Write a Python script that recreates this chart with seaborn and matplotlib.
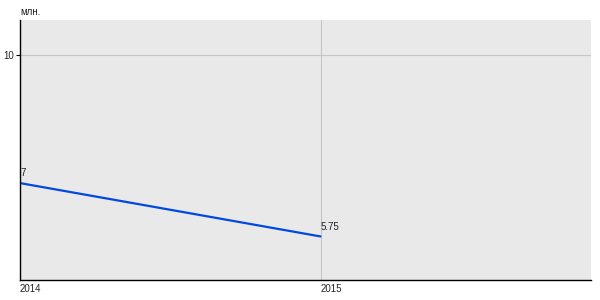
import matplotlib
matplotlib.use("Agg")
import matplotlib.pyplot as plt
import seaborn as sns
import pandas as pd

years = [2014, 2015]
values = [7, 5.75]
value_labels = ["7", "5.75"]
y_ticks = [10]
unit_label = "млн."

sns.set_theme(style="white")
plt.rcParams['font.family'] = ['Liberation Sans', 'DejaVu Sans']

fig = plt.figure(figsize=(6, 3), dpi=100)
ax = fig.add_axes([20/600, 20/300, 571/600, 260/300])
ax.set_facecolor("#e9e9e9")

df = pd.DataFrame({"year": years, "value": values})
sns.lineplot(data=df, x="year", y="value", ax=ax, color="#0049e0", linewidth=1.6)

ax.set_xlim(2014, 2015.9)
ax.set_ylim(4.73, 10.82)
ax.set_xticks(years)
ax.set_xticklabels([str(y) for y in years], ha="left", fontsize=7)
ax.set_yticks(y_ticks)
ax.set_yticklabels([str(t) for t in y_ticks], fontsize=7)
ax.tick_params(axis="x", length=0, pad=3)
ax.tick_params(axis="y", length=3, width=0.8, color="black", pad=1, left=True)
ax.grid(True, color="#c6c6c6", linewidth=0.8)
ax.set_axisbelow(True)
ax.set_xlabel("")
ax.set_ylabel("")
for s in ["top", "right"]:
    ax.spines[s].set_visible(False)
for s in ["left", "bottom"]:
    ax.spines[s].set_visible(True)
    ax.spines[s].set_color("black")
    ax.spines[s].set_linewidth(1)

for x, y, lab in zip(years, values, value_labels):
    ax.annotate(lab, (x, y), xytext=(0, 3.5), textcoords="offset points",
                ha="left", va="bottom", fontsize=7, color="#222222")

fig.text(20/600, 1 - 12/300, unit_label, ha="left", va="center", fontsize=7, color="#222222")

fig.savefig("out.png", dpi=100)
